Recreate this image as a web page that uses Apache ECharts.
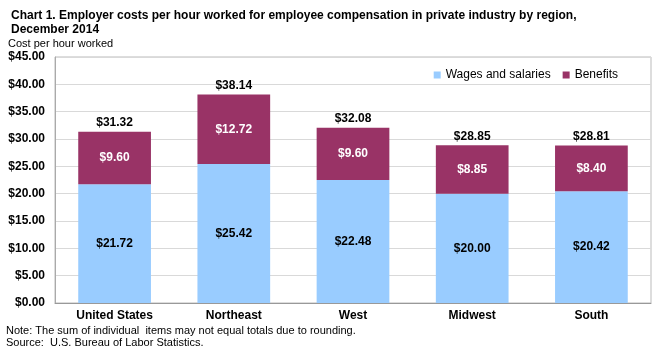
<!DOCTYPE html>
<html><head><meta charset="utf-8">
<script src="https://cdn.jsdelivr.net/npm/echarts@6/dist/echarts.min.js"></script>
<style>html,body{margin:0;padding:0;background:#fff}#c{width:667px;height:356px}</style>
</head><body><div id="c"></div>
<script>
const categories = ["United States", "Northeast", "West", "Midwest", "South"];
const wages = [21.72, 25.42, 22.48, 20.00, 20.42];
const benefits = [9.60, 12.72, 9.60, 8.85, 8.40];
const totals = [31.32, 38.14, 32.08, 28.85, 28.81];
const yTicks = [0, 5, 10, 15, 20, 25, 30, 35, 40, 45];

const FONT = "Arial, 'Liberation Sans', sans-serif";
const money = v => '$' + Number(v).toFixed(2);
const chart = echarts.init(document.getElementById('c'));
chart.setOption({
  animation: false,
  textStyle: { fontFamily: FONT },
  title: {
    text: 'Chart 1. Employer costs per hour worked for employee compensation in private industry by region,\nDecember 2014',
    left: 6, top: 4,
    textStyle: { fontFamily: FONT, fontSize: 12, fontWeight: 'bold', color: '#000', lineHeight: 14 }
  },
  graphic: [
    { type: 'text', left: 8, top: 38, style: { text: 'Cost per hour worked', font: '11px ' + FONT, fill: '#000' } },
    { type: 'text', left: 6, top: 325, style: { text: 'Note: The sum of individual  items may not equal totals due to rounding.\nSource:  U.S. Bureau of Labor Statistics.', font: '11px ' + FONT, fill: '#000', lineHeight: 12 } }
  ],
  legend: {
    data: ['Wages and salaries', 'Benefits'],
    right: 44, top: 64, itemWidth: 7, itemHeight: 7, itemGap: 12,
    icon: 'rect',
    textStyle: { fontFamily: FONT, fontSize: 12, color: '#000' }
  },
  grid: { left: 55, right: 16, top: 57, bottom: 53, show: true, borderColor: '#bbb', borderWidth: 1 },
  xAxis: {
    type: 'category', data: categories,
    axisTick: { show: false },
    axisLine: { lineStyle: { color: '#999' } },
    axisLabel: { fontFamily: FONT, fontSize: 12, fontWeight: 'bold', color: '#000', margin: 7 }
  },
  yAxis: {
    type: 'value', min: yTicks[0], max: yTicks[yTicks.length - 1], interval: 5,
    axisLine: { show: true, lineStyle: { color: '#aaa' } },
    axisTick: { show: false },
    splitLine: { lineStyle: { color: '#d9d9d9' } },
    axisLabel: { formatter: money, fontFamily: FONT, fontSize: 12, fontWeight: 'bold', color: '#000', margin: 10 }
  },
  series: [
    {
      name: 'Wages and salaries', type: 'bar', stack: 's', data: wages, barWidth: '61%',
      itemStyle: { color: '#99CCFF' },
      label: { show: true, position: 'inside', formatter: p => money(p.value), fontFamily: FONT, fontSize: 12, fontWeight: 'bold', color: '#000' }
    },
    {
      name: 'Benefits', type: 'bar', stack: 's', data: benefits,
      itemStyle: { color: '#993366' },
      label: { show: true, position: 'inside', formatter: p => money(p.value), fontFamily: FONT, fontSize: 12, fontWeight: 'bold', color: '#fff' }
    },
    {
      name: 'Total', type: 'scatter', data: totals, symbolSize: 0, silent: true,
      itemStyle: { color: '#000' },
      label: { show: true, position: 'top', distance: 3, formatter: p => money(p.value), fontFamily: FONT, fontSize: 12, fontWeight: 'bold', color: '#000', opacity: 1 }
    }
  ]
});
</script></body></html>
